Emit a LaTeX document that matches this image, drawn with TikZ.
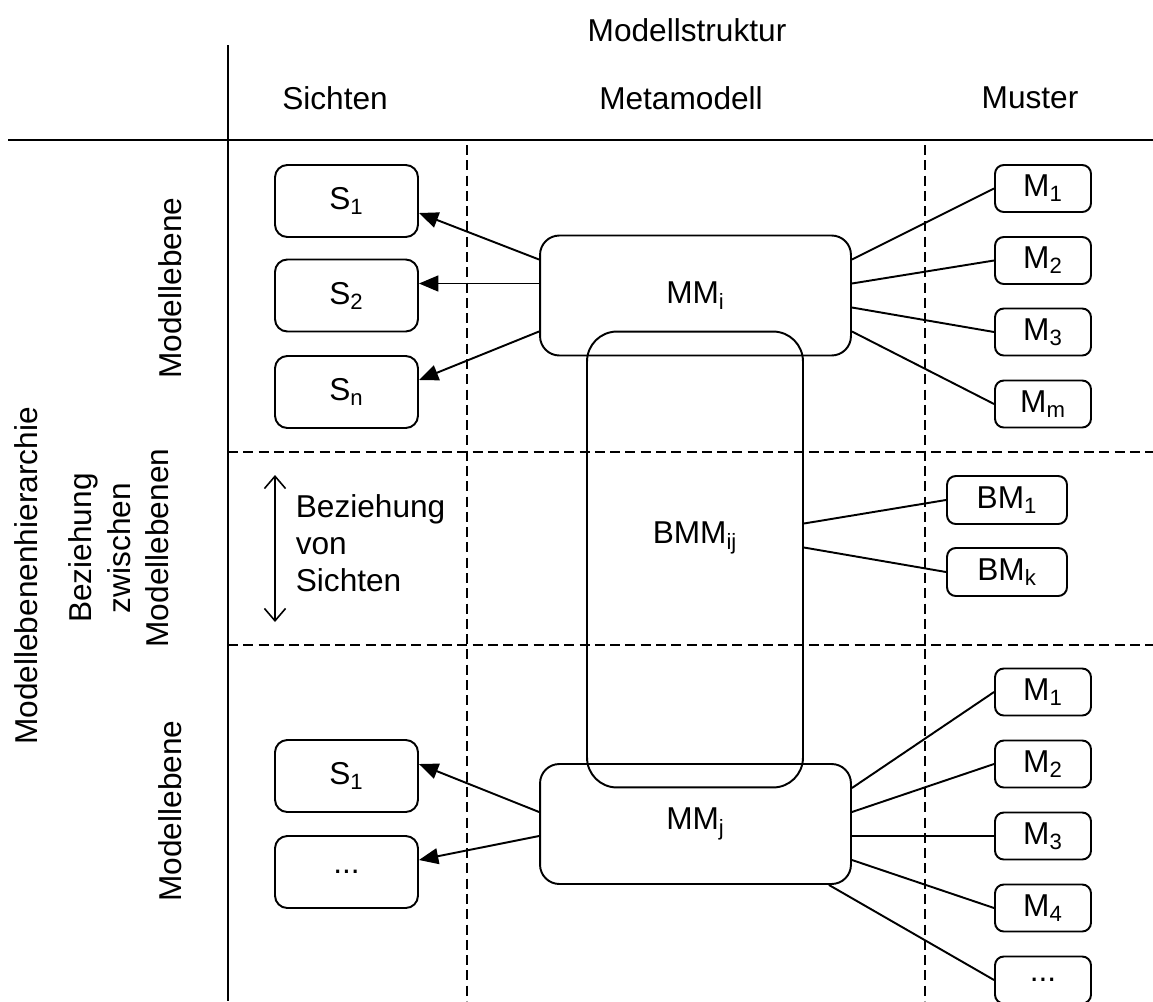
\documentclass[tikz,border=0pt]{standalone}
\usepackage{fontspec}
\setmainfont{Liberation Sans}
\usetikzlibrary{arrows.meta}

\begin{document}
\begin{tikzpicture}[x=0.02cm, y=-0.02cm, line width=1.1pt,
	every node/.style={font=\fontsize{18pt}{21pt}\selectfont},
	sbox/.style={draw, rounded corners=7pt, minimum width=2.86cm, minimum height=1.44cm, inner sep=0pt},
	mbox/.style={draw, rounded corners=5pt, minimum width=1.92cm, minimum height=0.94cm, inner sep=0pt},
	bmbox/.style={mbox, minimum width=2.4cm, minimum height=0.96cm},
	mmbox/.style={draw, rounded corners=11pt, minimum width=6.22cm, minimum height=2.4cm, inner sep=0pt},
	sep/.style={dash pattern=on 5.7pt off 3pt},
	arr/.style={-{Triangle[length=11pt,width=9pt]}},
	dblarr/.style={{Straight Barb[length=7pt,width=12pt]}-{Straight Barb[length=7pt,width=12pt]}, line width=0.9pt}]
	\clip (0,0) rectangle (1153,1001);
	\draw [line width=1.6pt] (8,140) -- (1153,140);
	\draw (228,45) -- (228,1001);
	\draw [sep] (467,145) -- (467,1001);
	\draw [sep] (925,145) -- (925,1001);
	\draw [sep] (228,452) -- (1153,452);
	\draw [sep] (228,645) -- (1153,645);
	\node (struktur) at (687,30) {Modellstruktur};
	\node (sichten) at (335,98) {Sichten};
	\node (meta) at (681,98) {Metamodell};
	\node (muster) at (1030,98) {Muster};
	\node [rotate=90] (hier) at (26,576) {Modellebenenhierarchie};
	\node [rotate=90] (ebene1) at (170,288) {Modellebene};
	\node [rotate=90, align=center, font=\fontsize{18pt}{22pt}\selectfont] (zwischen) at (119,548) {Beziehung\\zwischen\\Modellebenen};
	\node [rotate=90] (ebene2) at (170,811) {Modellebene};
	\coordinate (oben) at (275,475);
	\coordinate (unten) at (275,622);
	\draw [dblarr] (oben) -- (unten);
	\node [align=left, anchor=west] (bvs) at (289,543) {Beziehung\\von\\Sichten};
	\node [sbox] (s1) at (346.5,201) {S\textsubscript{1}};
	\node [sbox] (s2) at (346.5,295.5) {S\textsubscript{2}};
	\node [sbox] (sn) at (346.5,392) {S\textsubscript{n}};
	\node [sbox] (s1b) at (346.5,776) {S\textsubscript{1}};
	\node [sbox] (sdots) at (346.5,872) {...};
	\node [mmbox] (mmi) at (695.5,295.5) {MM\textsubscript{i}};
	\node [mmbox] (mmj) at (695.5,824) {MM\textsubscript{j}};
	\node [draw, rounded corners=17pt, minimum width=4.32cm, minimum height=9.12cm] (bmm) at (695,559.5) {};
	\node (bmmtext) at (695,538) {BMM\textsubscript{ij}};
	\node [mbox] (m1) at (1043,188.5) {M\textsubscript{1}};
	\node [mbox] (m2) at (1043,260.5) {M\textsubscript{2}};
	\node [mbox] (m3) at (1043,332) {M\textsubscript{3}};
	\node [mbox] (mm) at (1043,404) {M\textsubscript{m}};
	\node [bmbox] (bm1) at (1007,500) {BM\textsubscript{1}};
	\node [bmbox] (bmk) at (1007,572) {BM\textsubscript{k}};
	\node [mbox] (mb1) at (1043,692) {M\textsubscript{1}};
	\node [mbox] (mb2) at (1043,764) {M\textsubscript{2}};
	\node [mbox] (mb3) at (1043,836) {M\textsubscript{3}};
	\node [mbox] (mb4) at (1043,908) {M\textsubscript{4}};
	\node [mbox] (mb5) at (1043,980) {...};
	\draw [arr] ([yshift=0.72cm]mmi.west) -- ([yshift=-0.24cm]s1.east);
	\draw [arr] ([yshift=0.24cm]mmi.west) -- ([yshift=0.24cm]s2.east);
	\draw [arr] ([yshift=-0.72cm]mmi.west) -- ([yshift=0.24cm]sn.east);
	\draw ([yshift=0.72cm]mmi.east) -- (m1.west);
	\draw ([yshift=0.24cm]mmi.east) -- (m2.west);
	\draw ([yshift=-0.24cm]mmi.east) -- (m3.west);
	\draw ([yshift=-0.72cm]mmi.east) -- (mm.west);
	\draw ([yshift=0.72cm]bmm.east) -- (bm1.west);
	\draw ([yshift=0.24cm]bmm.east) -- (bmk.west);
	\draw [arr] ([yshift=0.24cm]mmj.west) -- ([yshift=0.24cm]s1b.east);
	\draw [arr] ([yshift=-0.24cm]mmj.west) -- ([yshift=0.24cm]sdots.east);
	\draw ([yshift=0.72cm]mmj.east) -- (mb1.west);
	\draw ([yshift=0.24cm]mmj.east) -- (mb2.west);
	\draw ([yshift=-0.24cm]mmj.east) -- (mb3.west);
	\draw ([yshift=-0.72cm]mmj.east) -- (mb4.west);
	\draw ([xshift=-0.46cm]mmj.south east) -- (mb5.west);
\end{tikzpicture}
\end{document}
